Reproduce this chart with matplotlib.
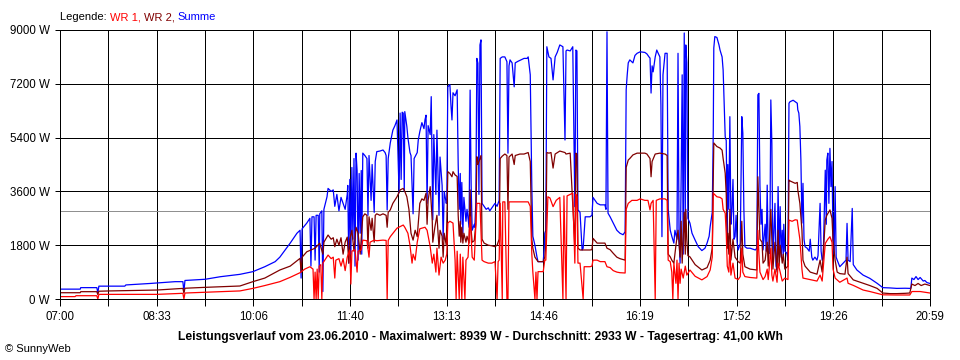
import matplotlib
matplotlib.use('Agg')
import numpy as np
import matplotlib.pyplot as plt

plt.rcParams['font.family'] = ['Liberation Sans', 'DejaVu Sans']

summe = [
    (0, 330), (19.5, 330), (20, 380), (35.5, 380), (36.5, 210), (37.5, 430), (62.5, 430), (63.5, 470),
    (87, 520), (111, 580), (118.5, 580), (119.5, 245), (120.5, 620), (140, 660), (154.5, 745),
    (173.5, 825), (186, 915), (197.5, 1080), (207.5, 1250), (212, 1400), (222, 1870), (228.5, 2200),
    (231.5, 2300), (232.5, 700), (233.5, 2350), (238, 2540), (241, 2700), (242, 1100), (243, 2750),
    (245, 2750), (246, 1300), (247, 2800), (249, 2800), (250, 900), (250.5, 2850), (252.5, 2950),
    (253.5, 250), (254.5, 3000), (257.5, 3420), (258.5, 3700), (261.5, 3600), (263.5, 3650),
    (265, 3100), (267, 3500), (269, 2950), (271, 3400), (273, 3200), (275, 3000), (277, 3500),
    (277.5, 3800), (278.5, 1200), (279.5, 4000), (280.5, 1500), (281.5, 4400), (282.5, 2000),
    (283.5, 4700), (284.5, 1100), (285.5, 4880), (286.5, 4300), (287.5, 1300), (288.5, 4200),
    (289.5, 2200), (290.5, 4300), (291, 1500), (292, 4880), (294, 4800), (296, 4700), (297, 2800),
    (298, 4800), (300, 3300), (301, 4500), (303, 2900), (304, 4600), (305.5, 4930), (308.5, 4950),
    (311.5, 4985), (313.5, 4900), (314.5, 4800), (315.5, 2980), (316.5, 4700), (318.5, 5220),
    (321, 5650), (323, 5800), (325, 5990), (327, 3550), (328, 6220), (329, 4000), (330, 6250),
    (331, 6220), (332, 3600), (332.5, 6270), (334.5, 5770), (335.5, 5400), (337.5, 4900),
    (338.5, 4800), (340.5, 2850), (341.5, 4700), (344.5, 4900), (345.5, 5320), (347, 5600),
    (349, 5900), (351, 5700), (352, 6000), (353, 6150), (354, 3200), (355, 5800), (357, 5500),
    (358, 6770), (359, 4000), (359.5, 2650), (360.5, 5500), (362.5, 3500), (363.5, 5650),
    (365.5, 2800), (366.5, 4750), (368.5, 3800), (369.5, 2000), (370.5, 3600), (372.5, 3200),
    (373, 3300), (374, 7100), (376, 7170), (377, 6500), (378, 5990), (379, 6900), (381, 6800),
    (383, 7000), (384, 4500), (385, 3000), (386, 4200), (386.5, 2500), (387.5, 3900), (388.5, 2200),
    (389.5, 3400), (391.5, 2600), (392.5, 3000), (394.5, 2400), (395.5, 6990), (396.5, 3800),
    (397.5, 2300), (399.5, 2500), (400, 2400), (401, 3200), (402, 8050), (403, 7890), (404, 3500),
    (405, 8500), (406, 8670), (407, 3200), (409, 3100), (411, 3000), (413, 3050), (414.5, 2950),
    (416.5, 3050), (418.5, 3150), (419.5, 3200), (421.5, 3100), (423.5, 3300), (424.5, 8050),
    (426.5, 8100), (429, 8100), (431, 7940), (432, 4880), (433, 7800), (434, 8000), (436, 7900),
    (438, 7100), (439, 7900), (441.5, 7950), (444.5, 8000), (447.5, 8050), (450.5, 8050),
    (451.5, 8100), (453.5, 7500), (455, 3760), (456, 2100), (458, 1800), (460, 1400), (461, 1250),
    (466, 1250), (467, 1700), (467.5, 2200), (468.5, 2300), (469.5, 8440), (471.5, 8100),
    (473.5, 8050), (475.5, 7330), (477.5, 8100), (479.5, 8250), (482, 8500), (485, 8440),
    (487, 5320), (488, 8300), (489, 8330), (492, 8300), (494.5, 8440), (496.5, 3090), (497.5, 8330),
    (498.5, 8300), (499.5, 2980), (501.5, 2900), (503.5, 1640), (504.5, 1700), (506.5, 2750),
    (511, 2750), (513, 2800), (514, 3400), (516, 3300), (518, 3200), (521, 3150), (525.5, 3150),
    (526.5, 3000), (527.5, 8940), (528.5, 2870), (530.5, 2750), (533.5, 2540), (537, 2300),
    (540, 2200), (543, 2150), (545, 2250), (546, 7000), (547, 7500), (548, 7900), (549.5, 8000),
    (552.5, 7900), (554.5, 8150), (556.5, 8220), (559.5, 8270), (564, 8250), (566, 8200),
    (568, 8100), (569, 8060), (570, 6890), (571, 7800), (572, 7600), (574, 8100), (575.5, 8330),
    (576.5, 8250), (578.5, 8100), (579.5, 6500), (580.5, 2085), (581.5, 7500), (583.5, 8220),
    (585.5, 8220), (586.5, 3000), (588.5, 2300), (590, 2100), (592, 1870), (593, 2300), (595, 2000),
    (596, 8220), (597, 2000), (598, 1200), (599, 4000), (600, 7500), (601, 1500), (602, 8900),
    (603, 2500), (603.5, 8500), (604.5, 7900), (605.5, 2700), (607.5, 2540), (609.5, 2200),
    (612.5, 1970), (615.5, 1750), (619, 1620), (622, 1700), (624, 1870), (626, 2100), (627, 2420),
    (629, 2900), (630, 5650), (630.5, 8400), (631.5, 8780), (633.5, 8750), (635.5, 8500),
    (636.5, 8330), (638.5, 8100), (639.5, 7660), (641.5, 5430), (642.5, 5300), (643.5, 2085),
    (644, 4500), (645, 3000), (646, 6100), (647, 2500), (648, 2980), (649, 4000), (650, 2000),
    (651, 2085), (652, 2800), (653, 1900), (654, 1640), (655, 1750), (656, 1860), (657.5, 6100),
    (658.5, 5550), (659.5, 3000), (660.5, 1750), (662.5, 1700), (665.5, 1700), (670.5, 1640),
    (672, 1700), (673, 6830), (674, 6880), (675, 3800), (676, 2500), (677, 3000), (678, 1640),
    (680, 2500), (681, 1600), (682, 3810), (683, 1530), (684.5, 1530), (685.5, 6660), (686.5, 5200),
    (687.5, 1310), (689.5, 3200), (690.5, 1100), (691.5, 970), (692.5, 3760), (693.5, 1500),
    (694.5, 3090), (695.5, 1400), (696.5, 2300), (697.5, 1420), (698, 2500), (699, 1600),
    (701, 1530), (702, 1300), (703, 6550), (704, 6600), (707, 6650), (709, 6600), (711, 6550),
    (711.5, 6330), (712.5, 6220), (713.5, 5770), (714.5, 4650), (715.5, 2540), (716.5, 3870),
    (717.5, 2000), (718.5, 1750), (720.5, 1700), (722.5, 1600), (723.5, 2000), (725, 1400),
    (726, 1300), (728, 1400), (730, 1300), (731, 1450), (733, 3200), (734, 1600), (735, 1300),
    (736, 1350), (738, 4310), (739, 2500), (739.5, 4650), (740.5, 4880), (741.5, 3200),
    (742.5, 5040), (743.5, 3760), (744.5, 4600), (745.5, 1970), (746.5, 1500), (747.5, 3760),
    (748.5, 1400), (749.5, 1300), (752, 1080), (755, 1190), (758, 1300), (759, 2530), (760, 1300),
    (762, 1250), (764, 3030), (765, 1150), (768.5, 970), (774.5, 800), (781, 690), (788, 525),
    (793.5, 380), (800.5, 370), (807, 355), (815, 360), (819.5, 355), (820.5, 360), (821.5, 700),
    (823.5, 650), (825.5, 750), (827.5, 650), (829.5, 720), (832.5, 600), (834, 620), (836, 550),
    (839, 520),
]

wr2 = [
    (0, 210), (19.5, 210), (20, 245), (35.5, 245), (36.5, 150), (37.5, 260), (48, 270), (93.5, 300),
    (118.5, 355), (119.5, 200), (120.5, 360), (140, 390), (173.5, 435), (186, 580), (197.5, 700),
    (212, 970), (222, 1100), (231.5, 1360), (232.5, 900), (233.5, 1400), (238, 1580), (246, 1700),
    (250.5, 1870), (253.5, 1500), (254.5, 1900), (258.5, 2140), (261.5, 2000), (263.5, 2050),
    (265, 1750), (267, 2000), (269, 1800), (271, 2050), (273, 1500), (275, 1900), (277, 2070),
    (278.5, 1200), (279.5, 2000), (281.5, 2300), (283.5, 1600), (285.5, 2400), (287.5, 2200),
    (289.5, 1500), (291, 2300), (292, 2750), (294, 2850), (296, 2800), (297, 1700), (298, 2750),
    (300, 2300), (301, 2700), (303, 1900), (304, 2800), (305.5, 2850), (308.5, 2800), (311.5, 2850),
    (314.5, 2800), (315.5, 2400), (316.5, 2900), (318.5, 2980), (321, 3200), (325, 3420),
    (328, 3650), (331, 3700), (332.5, 3600), (334.5, 3420), (336.5, 3000), (338.5, 2200),
    (340.5, 1970), (342.5, 2300), (344.5, 2085), (347, 3200), (349, 3350), (351, 3300), (353, 3540),
    (354, 2500), (355, 3300), (357, 3760), (359, 2600), (359.5, 1900), (361.5, 2400), (363.5, 2800),
    (365.5, 1700), (366.5, 2300), (368.5, 2100), (369.5, 1400), (370.5, 2200), (372.5, 1800),
    (373, 2500), (374, 4260), (376, 4200), (378, 4090), (379, 4260), (381, 4150), (383, 4100),
    (384, 2800), (385, 2100), (386, 2600), (386.5, 1900), (387.5, 2400), (388.5, 1870),
    (389.5, 2200), (391.5, 1900), (392.5, 2100), (394.5, 1870), (395.5, 3650), (396.5, 2300),
    (397.5, 1900), (399.5, 1950), (401, 2500), (402, 4760), (403, 4500), (405, 4700), (406, 4800),
    (407, 2000), (409, 1870), (413, 1800), (416.5, 1780), (419.5, 1750), (421.5, 1800),
    (423.5, 2000), (424.5, 4700), (426.5, 4780), (429, 4850), (431, 4800), (432, 3000), (433, 4750),
    (436, 4850), (438, 4500), (439, 4800), (443.5, 4850), (447.5, 4850), (451.5, 4900),
    (453.5, 4600), (455, 2000), (456, 1700), (458, 1400), (461, 1250), (466, 1250), (467.5, 1400),
    (468.5, 1800), (469.5, 4900), (471.5, 4880), (473.5, 4900), (475.5, 4380), (477.5, 4850),
    (482, 4950), (487, 4900), (488, 4850), (492, 4880), (496.5, 1750), (497.5, 4880), (498.5, 4850),
    (499.5, 1700), (501.5, 1640), (511, 1640), (513, 1650), (514, 2030), (516, 1950), (518, 1870),
    (525.5, 1870), (527.5, 1700), (530.5, 1650), (533.5, 1530), (537, 1400), (540, 1350),
    (545, 1300), (546, 4400), (548, 4650), (549.5, 4700), (552.5, 4820), (556.5, 4880), (564, 4880),
    (566, 4850), (569, 4700), (570, 4090), (571, 4600), (574, 4850), (578.5, 4880), (583.5, 4850),
    (585.5, 4800), (586.5, 1500), (588.5, 1410), (590, 1300), (592, 1200), (594, 1800), (596, 2300),
    (598, 1400), (599, 2600), (600, 1200), (602, 2900), (603, 1500), (603.5, 3000), (604.5, 2000),
    (605.5, 1450), (607.5, 1410), (612.5, 1150), (619, 970), (624, 1050), (627, 1300), (629, 1700),
    (630, 4000), (630.5, 5220), (633.5, 5100), (636.5, 5050), (638.5, 4980), (639.5, 4700),
    (641.5, 4210), (642.5, 3500), (643.5, 1700), (644, 2200), (645, 1500), (646, 3000), (647, 1300),
    (649, 2000), (651, 1400), (654, 1250), (656, 1200), (657.5, 2600), (658.5, 1500), (660.5, 1080),
    (665.5, 1000), (672, 970), (673, 4090), (674, 3000), (675, 2000), (677, 1900), (678, 1200),
    (680, 1300), (682, 1900), (683, 1100), (685.5, 3000), (686.5, 2000), (687.5, 1000),
    (689.5, 1900), (691.5, 900), (692.5, 2300), (693.5, 1100), (694.5, 1800), (696.5, 1200),
    (697.5, 1500), (699, 1000), (702, 1100), (703, 3980), (704, 3950), (709, 3870), (711, 3900),
    (711.5, 3650), (713.5, 3200), (715.5, 2300), (716.5, 1300), (718.5, 1100), (723.5, 900),
    (728, 850), (730, 830), (733, 1300), (735, 900), (738, 2640), (739.5, 2800), (742.5, 2980),
    (744.5, 2700), (745.5, 1970), (747.5, 1300), (749.5, 900), (752, 850), (757, 830), (759, 1400),
    (760, 850), (765, 640), (774.5, 525), (781, 450), (788, 355), (793.5, 200), (800.5, 180),
    (807, 180), (815, 190), (819.5, 200), (821.5, 500), (824.5, 450), (827.5, 520), (830.5, 450),
    (834, 500), (839, 450),
]

wr1 = [
    (0, 80), (14.5, 80), (15.5, 110), (35.5, 110), (36.5, 0), (37.5, 155), (93.5, 155), (118.5, 190),
    (119.5, 0), (120.5, 200), (140, 225), (173.5, 270), (186, 355), (197.5, 450), (212, 580),
    (222, 725), (231.5, 880), (236, 1000), (241, 1080), (244, 1000), (245, 0), (246, 900), (247, 0),
    (248, 1000), (249, 0), (250, 1100), (251.5, 1150), (252.5, 0), (253.5, 1200), (258.5, 1470),
    (261.5, 1350), (263.5, 1400), (265, 700), (266, 1300), (269, 1350), (271, 1100), (273, 1350),
    (275, 950), (277, 1400), (279.5, 1640), (280.5, 500), (281.5, 1600), (284.5, 1650), (286.5, 900),
    (287.5, 1600), (290.5, 1640), (292, 1970), (296, 1950), (298, 1400), (299, 1900), (303, 1970),
    (305.5, 1950), (311.5, 1970), (314.5, 1960), (315.5, 0), (316.5, 1960), (318.5, 2085),
    (325, 2370), (331, 2475), (332.5, 2400), (335.5, 2200), (337.5, 1800), (339.5, 1200),
    (340.5, 1500), (342.5, 1300), (344.5, 1900), (347, 2350), (352, 2400), (354, 2300), (357, 1750),
    (359, 1200), (360.5, 1500), (362.5, 900), (363.5, 1700), (365.5, 800), (367.5, 1400),
    (369.5, 1200), (371.5, 1300), (373, 1500), (374, 2540), (376, 2600), (379, 2540), (381, 1300),
    (382, 0), (383, 1600), (385, 0), (386, 1500), (387.5, 0), (388.5, 1400), (390.5, 0),
    (391.5, 1300), (393.5, 1400), (395.5, 2750), (397.5, 1400), (399.5, 1300), (402, 3200),
    (405, 3200), (407, 1300), (409, 1250), (413, 1200), (416.5, 1200), (419.5, 1250), (421.5, 0),
    (422.5, 1250), (423.5, 1300), (424.5, 3200), (426.5, 0), (427, 3250), (429, 3250), (431, 0),
    (432, 0), (433, 3250), (436, 3250), (443.5, 3250), (451.5, 3250), (453.5, 3100), (455, 1500),
    (456, 900), (458, 0), (459, 900), (460, 0), (461, 915), (466, 915), (467.5, 1300), (468.5, 1300),
    (470.5, 3420), (472.5, 3380), (475.5, 3090), (478.5, 3300), (482, 3400), (485, 0), (486, 3450),
    (488, 0), (489, 3450), (492, 3500), (494.5, 3540), (496.5, 1200), (497.5, 3500), (498.5, 3420),
    (499.5, 1200), (501.5, 1200), (504.5, 0), (505.5, 1080), (511, 1080), (513, 1100), (514, 1300),
    (518, 1300), (521, 1250), (525.5, 1250), (527.5, 1080), (530.5, 1050), (533.5, 950), (537, 900),
    (540, 880), (545, 870), (546, 3000), (548, 3200), (551.5, 3300), (556.5, 3300), (559.5, 3350),
    (564, 3300), (567, 3300), (569, 2980), (570, 3200), (572, 3300), (574, 0), (575, 3300),
    (578.5, 3350), (583.5, 3350), (585.5, 3300), (586.5, 1300), (588.5, 1250), (590, 900), (591, 0),
    (592, 1200), (594, 525), (595, 1300), (596, 0), (597, 1200), (598, 525), (599, 1000), (601, 700),
    (603, 1100), (604.5, 800), (607.5, 970), (612.5, 760), (619, 640), (624, 750), (627, 970),
    (629, 1400), (630, 3540), (633.5, 3420), (636.5, 3400), (638.5, 3350), (639.5, 3000),
    (641.5, 2870), (642.5, 2200), (643.5, 1100), (645, 900), (646, 1800), (647, 800), (649, 1200),
    (651, 700), (654, 650), (656, 750), (657.5, 1700), (658.5, 900), (660.5, 750), (665.5, 720),
    (672, 700), (673, 2300), (674, 1500), (675, 900), (678, 650), (680, 750), (682, 1000), (683, 650),
    (685.5, 1700), (686.5, 800), (687.5, 600), (689.5, 1000), (691.5, 560), (692.5, 1200),
    (694.5, 900), (696.5, 600), (699, 700), (702, 650), (703, 2640), (706, 2600), (709, 2650),
    (711, 2640), (711.5, 2500), (713.5, 2000), (715.5, 1000), (716.5, 700), (723.5, 650), (730, 600),
    (733, 800), (735, 600), (738, 1860), (740.5, 2000), (742.5, 2085), (744.5, 1900), (745.5, 1000),
    (747.5, 700), (752, 560), (759, 700), (760, 525), (765, 456), (774.5, 300), (781, 250),
    (788, 190), (793.5, 140), (807, 134), (819.5, 134), (821.5, 250), (829.5, 250), (839, 200),
]

average_w = 2933
x_labels = ['07:00', '08:33', '10:06', '11:40', '13:13', '14:46', '16:19', '17:52', '19:26', '20:59']
y_values = [0, 1800, 3600, 5400, 7200, 9000]
footer = ('Leistungsverlauf vom 23.06.2010 - Maximalwert: 8939 W - '
          'Durchschnitt: 2933 W - Tagesertrag: 41,00 kWh')
legend_parts = [('Legende: ', 'black'), ('WR 1, ', '#ff0000'), ('WR 2, ', '#800000'), ('Summe', '#0000ff')]

day_minutes = 839
px = 0.72  # one pixel at 100 dpi, in points

fig = plt.figure(figsize=(9.6, 3.6), dpi=100)
ax = fig.add_axes([60 / 960, 1 - 299 / 360, 870 / 960, 269 / 360])

ax.axhline(average_w, color='#909090', lw=px, antialiased=False, zorder=1.5)
for data, color in ((summe, '#0000ff'), (wr2, '#800000'), (wr1, '#ff0000')):
    t, p = zip(*data)
    ax.plot(t, p, color=color, lw=0.9, zorder=2)

ax.set_xlim(0, day_minutes)
ax.set_ylim(0, 9000)

grid_x = np.arange(19) * day_minutes / 18
ax.set_xticks(grid_x)
ax.set_xticklabels([x_labels[i // 2] if i % 2 == 0 else '' for i in range(19)])
ax.set_yticks(y_values)
ax.set_yticklabels([f'{v} W' for v in y_values])
ax.grid(True, color='black', lw=px, antialiased=False)
ax.set_axisbelow(True)

for s in ax.spines.values():
    s.set_color('black')
    s.set_linewidth(px)
    s.set_antialiased(False)

ax.tick_params(axis='x', direction='out', length=5, width=px, pad=3.5, labelsize=8.3)
ax.tick_params(axis='y', direction='out', length=3.6, width=px, pad=3.6, labelsize=8.3)

fig.text(0.5, 1 - 337 / 360, footer, ha='center', va='center', fontsize=8.7, fontweight='bold')
fig.text(5 / 960, 1 - 349 / 360, '\u00a9 SunnyWeb', ha='left', va='center', fontsize=8)

renderer = fig.canvas.get_renderer()
x_px = 60
for text, color in legend_parts:
    t = fig.text(x_px / 960, 1 - 17 / 360, text, color=color, ha='left', va='center', fontsize=8)
    x_px += t.get_window_extent(renderer).width

fig.savefig('out.png', dpi=100)
